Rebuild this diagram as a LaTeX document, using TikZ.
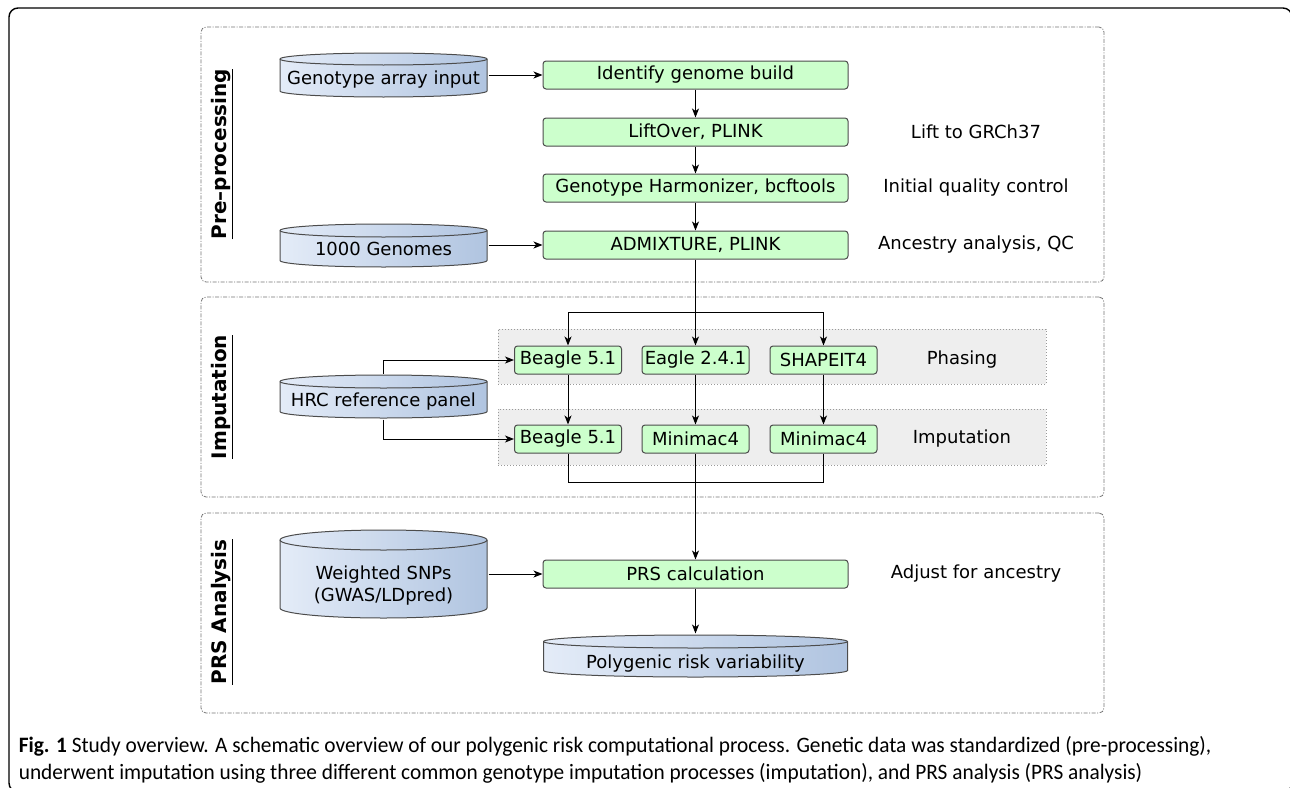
\documentclass[tikz,border=0pt]{standalone}
\usepackage{fontspec}
\setmainfont{DejaVu Sans}
\newfontfamily\capfont[FakeStretch=0.97]{Carlito}
\usetikzlibrary{positioning, calc, arrows.meta}
\definecolor{toolgreen}{RGB}{204,255,204}
\definecolor{canlight}{RGB}{228,236,248}
\definecolor{candark}{RGB}{176,196,224}
\definecolor{bandgray}{RGB}{238,238,238}
\def\canry{6.5pt}

\begin{document}
\begin{tikzpicture}[x=1pt, y=-1pt, line width=1pt, >={Stealth[length=9pt,width=7pt,inset=2.5pt]},
  every node/.style={font=\fontsize{18}{22}\selectfont},
  stage/.style={draw=black!55, dash pattern=on 4pt off 1.5pt on 1pt off 1.5pt, rounded corners=5pt, line width=0.8pt, inner sep=0pt},
  band/.style={draw=black!40, dotted, fill=bandgray, inner sep=0pt},
  tool/.style={draw=black!70, fill=toolgreen, rounded corners=3pt, minimum height=28pt, inner sep=0pt, line width=1pt},
  wide/.style={tool, minimum width=305pt},
  small/.style={tool, minimum width=107pt},
  can ry/.code={\def\canry{#1}},
  data/.style={rectangle, inner sep=0pt, minimum width=209pt, text height=19.5pt, text depth=-1.5pt,
    path picture={
      \draw[left color=canlight, right color=candark, draw=black!70, line width=1pt]
        let \p1=(path picture bounding box.north west), \p2=(path picture bounding box.south east) in
        ({\x1+1pt},{\y1-1pt-\canry}) -- ({\x1+1pt},{\y2+1pt+\canry})
        arc[start angle=180, end angle=360, x radius={(\x2-\x1)/2-1pt}, y radius=\canry]
        -- ({\x2-1pt},{\y1-1pt-\canry})
        arc[start angle=0, end angle=180, x radius={(\x2-\x1)/2-1pt}, y radius=\canry] -- cycle;
      \draw[draw=black!70, line width=1pt]
        let \p1=(path picture bounding box.north west), \p2=(path picture bounding box.south east) in
        ({\x1+1pt},{\y1-1pt-\canry})
        arc[start angle=180, end angle=360, x radius={(\x2-\x1)/2-1pt}, y radius=\canry];
    }},
  title/.style={rotate=90, font=\fontsize{20}{24}\selectfont\bfseries},
  caption/.style={anchor=base west, font=\capfont\fontsize{22}{26}\selectfont},
]
    \useasboundingbox (0,0) rectangle (1290,787);
    \draw[line width=1.4pt, rounded corners=9pt] (9,8) rectangle (1292,792);

    % stages and bands
    \node[stage, minimum width=903pt, minimum height=255pt] (preframe) at (652.5,154.5) {};
    \node[stage, minimum width=903pt, minimum height=200pt] (impframe) at (652.5,397) {};
    \node[stage, minimum width=903pt, minimum height=200pt] (prsframe) at (652.5,613) {};
    \node[band, minimum width=548pt, minimum height=55pt] (phaseband) at (772,356.5) {};
    \node[band, minimum width=548pt, minimum height=56pt] (impband) at (772,437) {};

    \node[title] (pretitle) at (222,154) {\underline{Pre–processing}};
    \node[title] (imptitle) at (222,397) {\underline{Imputation}};
    \node[title] (prstitle) at (222,612) {\underline{PRS Analysis}};

    % data sources
    \node[data, minimum height=46pt, can ry=6pt, text height=18.5pt, text depth=-0.5pt] (genoin) at (383.5,75) {Genotype array input};
    \node[data, minimum height=45pt] (kgenomes) at (383.5,245.5) {1000 Genomes};
    \node[data, minimum height=45pt] (hrc) at (383.5,396.5) {HRC reference panel};
    \node[data, minimum height=90pt, can ry=10pt, text height=27pt, text depth=17pt] (weighted) at (383.5,574) {\begin{tabular}[t]{@{}c@{}}Weighted SNPs\\(GWAS/LDpred)\end{tabular}};
    \node[data, minimum height=44pt, minimum width=306pt, text height=24pt, text depth=-6pt] (polyrisk) at (695.5,656) {Polygenic risk variability};

    % tools
    \node[wide] (identify) at (695.5,75) {Identify genome build};
    \node[wide] (liftover) at (695.5,132) {LiftOver, PLINK};
    \node[wide] (harmonize) at (695.5,188) {Genotype Harmonizer, bcftools};
    \node[wide] (admixture) at (695.5,245) {ADMIXTURE, PLINK};
    \node[small] (beaglephase) at (568,360) {Beagle 5.1};
    \node[small] (eagle) at (695.5,360) {Eagle 2.4.1};
    \node[small] (shapeit) at (823.5,360) {SHAPEIT4};
    \node[small] (beagleimp) at (568,439) {Beagle 5.1};
    \node[small] (minimac) at (695.5,439) {Minimac4};
    \node[small] (minimacb) at (823.5,439) {Minimac4};
    \node[wide] (prscalc) at (695.5,574) {PRS calculation};

    % notes
    \node (liftnote) at (976,132) {Lift to GRCh37};
    \node (qcnote) at (976,188) {Initial quality control};
    \node (ancnote) at (976,245) {Ancestry analysis, QC};
    \node (phasenote) at (962,360) {Phasing};
    \node (impnote) at (962,439) {Imputation};
    \node (adjnote) at (976,574) {Adjust for ancestry};

    % connectors
    \coordinate (split) at (695.5,312);
    \coordinate (merge) at (695.5,482);
    \draw[->] (genoin) -- (identify);
    \draw[->] (identify) -- (liftover);
    \draw[->] (liftover) -- (harmonize);
    \draw[->] (harmonize) -- (admixture);
    \draw[->] (kgenomes.east |- admixture) -- (admixture);
    \draw[->] (admixture) -- (eagle);
    \draw[->] (split) -| (beaglephase);
    \draw[->] (split) -| (shapeit);
    \draw[->] (hrc.north) |- (beaglephase);
    \draw[->] (hrc.south) |- (beagleimp);
    \draw[->] (beaglephase) -- (beagleimp);
    \draw[->] (eagle) -- (minimac);
    \draw[->] (shapeit) -- (minimacb);
    \draw (beagleimp.south) |- (merge);
    \draw (minimacb.south) |- (merge);
    \draw[->] (minimac) -- (prscalc);
    \draw[->] (weighted) -- (prscalc);
    \draw[->] (prscalc) -- (polyrisk);

    % caption
    \node[caption] (capone) at (15,752) {\textbf{Fig. 1} Study overview. A schematic overview of our polygenic risk computational process. Genetic data was standardized (pre-processing),};
    \node[caption] (captwo) at (15,779) {underwent imputation using three different common genotype imputation processes (imputation), and PRS analysis (PRS analysis)};
\end{tikzpicture}
\end{document}
